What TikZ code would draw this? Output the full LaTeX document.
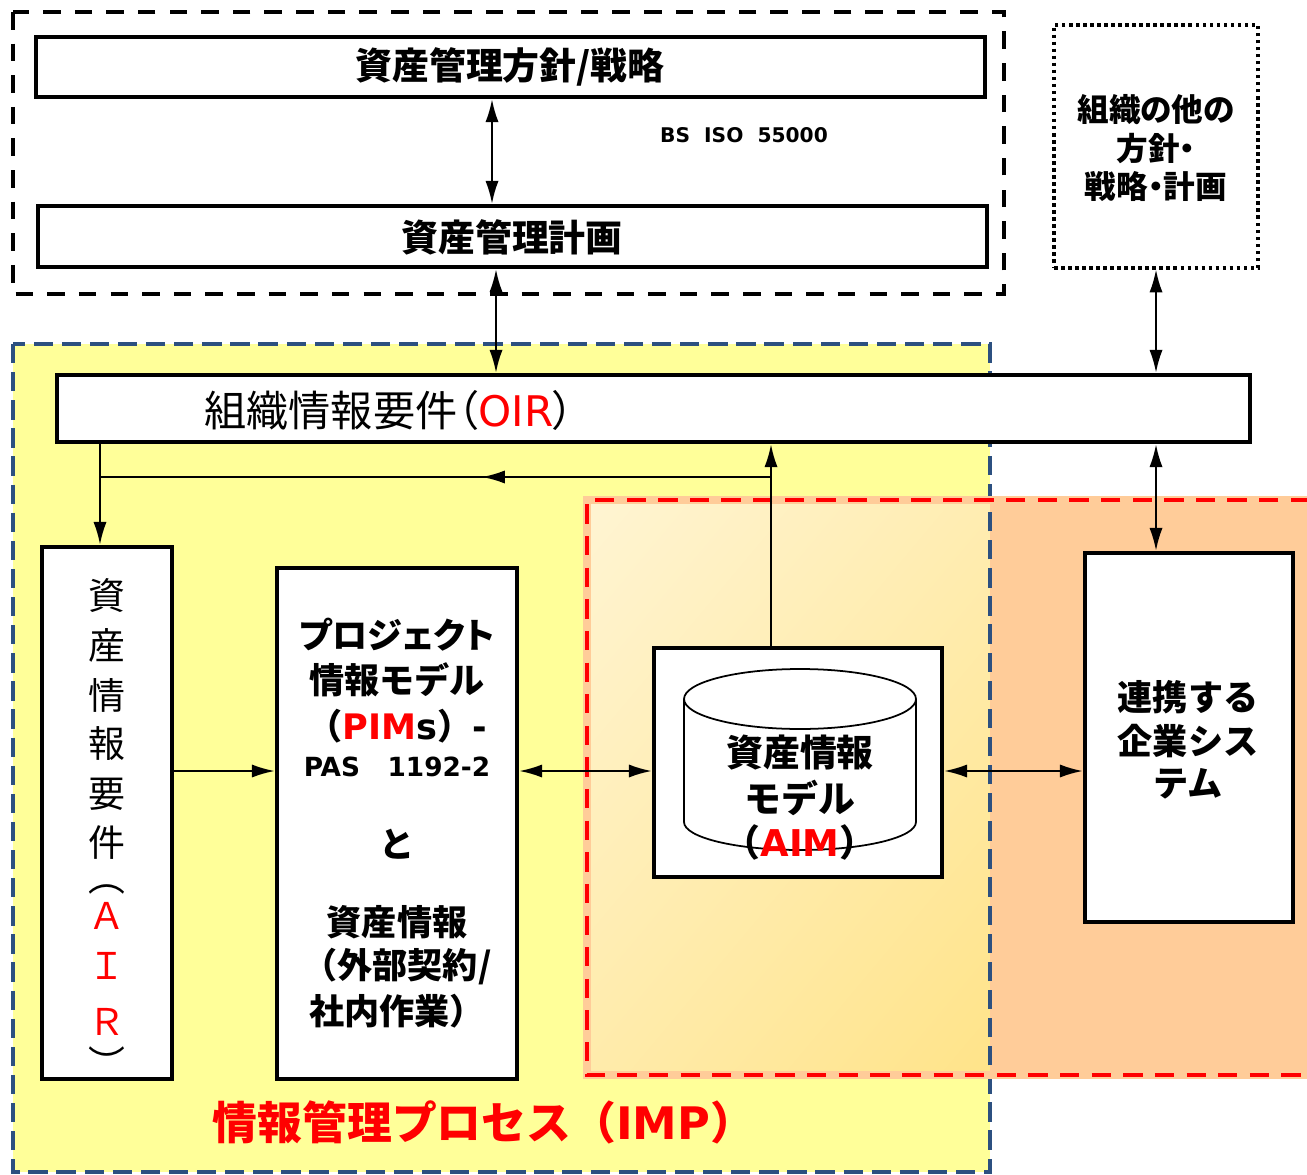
\documentclass[tikz,border=0pt]{standalone}
\usepackage{fontspec}
\setmainfont{Noto Sans CJK JP}
\newfontfamily\jpp[RawFeature=+palt]{Noto Sans CJK JP}
\newfontfamily\lat{DejaVu Sans}
\usetikzlibrary{arrows.meta,shapes.geometric,fit}
\definecolor{ylw}{RGB}{255,255,153}
\definecolor{org}{RGB}{255,204,153}
\definecolor{crm}{RGB}{255,248,226}
\definecolor{gld}{RGB}{255,224,122}
\definecolor{bluedash}{RGB}{44,80,128}
\definecolor{rd}{RGB}{255,0,0}
\pgfdeclarehorizontalshading{diagsh}{100bp}{color(0bp)=(crm); color(100bp)=(gld)}
\tikzset{
  box/.style={draw, line width=2.6pt, fill=white, inner sep=0pt},
  conn/.style={line width=1.1pt},
  dbl/.style={conn, {Latex[length=13pt,width=7.5pt]}-{Latex[length=13pt,width=7.5pt]}},
  sgl/.style={conn, -{Latex[length=13pt,width=7.5pt]}},
  bt/.style={inner sep=0pt, font=\fontsize{21}{25}\selectfont\bfseries},
  pt/.style={inner sep=0pt, font=\fontsize{20}{24}\selectfont\bfseries},
  ot/.style={inner sep=0pt, font=\jpp\fontsize{18}{22}\selectfont\bfseries},
  vt/.style={inner sep=0pt, font=\fontsize{21}{25}\selectfont},
}
\begin{document}
\begin{tikzpicture}[x=0.02cm, y=-0.02cm]
\useasboundingbox (0,0) rectangle (1307,1175);
\fill[white] (0,0) rectangle (1307,1175);
% regions
\fill[ylw] (13,344) rectangle (990,1172);
\shade[shading=diagsh, shading angle=-40] (587,500) rectangle (990,1075);
\fill[org] (990,500) rectangle (1310,1075);
\draw[bluedash, line width=2.3pt, dash pattern=on 11pt off 5pt] (13,344) rectangle (990,1172);
\draw[org, line width=4pt] (1310,500) -- (587,500) -- (587,1075) -- (1310,1075);
\draw[rd, line width=2.3pt, dash pattern=on 11pt off 7pt] (1310,500) -- (587,500) -- (587,1075) -- (1310,1075);
\draw[line width=2.8pt, dash pattern=on 10pt off 8pt] (13,12) rectangle (1004,294);
% top boxes
\node[box, fit={(36,37) (985,97)}] (pol) {};
\node[bt] (polt) at (510,67) {資産管理方針/戦略};
\node[box, fit={(38,206) (987,267)}] (plan) {};
\node[bt] (plant) at (512,237) {資産管理計画};
\node[inner sep=0pt, font=\lat\fontsize{11.5}{13}\selectfont\bfseries] (bsiso) at (744,135) {BS\ \ ISO\ \ 55000};
\node[draw, line width=1.8pt, dash pattern=on 2pt off 2pt, fit={(1054,25) (1258,268)}, inner sep=0pt] (other) {};
\node[ot] (o1) at (1156,110) {組織の他の};
\node[ot] (o2) at (1156,149) {方針・};
\node[ot] (o3) at (1156,187) {戦略・計画};
% OIR
\node[box, fit={(57,375) (1250,442)}] (oir) {};
\node[anchor=west, inner sep=0pt, font=\jpp\fontsize{24}{28}\selectfont] (oirt) at (204,410) {組織情報要件（\textcolor{rd}{\lat OIR}）};
% AIR
\node[box, fit={(42,547) (172,1079)}] (air) {};
\foreach \c/\yy/\nm in {資/596/a1,産/645/a2,情/695/a3,報/744/a4,要/794/a5,件/843/a6}
  \node[vt] (\nm) at (107,\yy) {\c};
\node[vt] (a7) at (107,889) {︵};
\node[vt, text=rd] (a8) at (107,916) {Ａ};
\node[vt, text=rd] (a9) at (107,966) {Ｉ};
\node[vt, text=rd] (a10) at (107,1022) {Ｒ};
\node[vt] (a11) at (107,1062) {︶};
% PIM
\node[box, fit={(277,568) (517,1079)}] (pim) {};
\node[pt] (p1) at (397,635) {\jpp プロジェクト};
\node[pt] (p2) at (397,680) {情報モデル};
\node[pt] (p3) at (397,726) {（\textcolor{rd}{\lat PIM}{\lat s}）{\lat -}};
\node[pt, font=\lat\fontsize{15}{18}\selectfont\bfseries] (p4) at (397,767) {PAS\ \ \ 1192-2};
\node[pt] (p5) at (397,844) {と};
\node[pt] (p6) at (397,922) {資産情報};
\node[pt] (p7) at (397,967) {（外部契約/};
\node[pt] (p8) at (397,1011) {社内作業）};
% AIM
\node[box, fit={(654,648) (942,877)}] (aim) {};
\draw[line width=1pt] (684,699) -- (684,822) arc[start angle=180, end angle=360, x radius=2.32cm, y radius=0.56cm] -- (916,699);
\node[draw, ellipse, line width=1pt, fill=white, minimum width=4.64cm, minimum height=1.2cm, inner sep=0pt] (cyltop) at (800,699) {};
\node[bt] (m1) at (800,753) {資産情報};
\node[bt] (m2) at (800,798) {モデル};
\node[bt] (m3) at (800,842) {（\textcolor{rd}{\lat AIM}）};
% System
\node[box, fit={(1085,553) (1293,922)}] (sys) {};
\node[pt] (s1) at (1188,697) {連携する};
\node[pt] (s2) at (1188,741) {企業シス};
\node[pt] (s3) at (1188,784) {テム};
% title
\node[inner sep=0pt, text=rd, font=\fontsize{25.5}{30}\selectfont\bfseries] (title) at (484,1122) {情報管理プロセス（{\lat IMP}）};
% helper coordinates
\coordinate (xa) at (492,0);
\coordinate (xb) at (496,0);
\coordinate (xc) at (1156,0);
\coordinate (xd) at (100,0);
\coordinate (xe) at (771,0);
\coordinate (ya) at (0,771);
\coordinate (fb1) at (771,477);
\coordinate (fb2) at (100,477);
\coordinate (fbm) at (482,477);
% connectors
\draw[dbl] (pol.south -| xa) -- (plan.north -| xa);
\draw[dbl] (plan.south -| xb) -- (oir.north -| xb);
\draw[dbl] (other.south -| xc) -- (oir.north -| xc);
\draw[dbl] (oir.south -| xc) -- (sys.north -| xc);
\draw[sgl] (oir.south -| xd) -- (air.north -| xd);
\draw[sgl] (aim.north -| xe) -- (oir.south -| xe);
\draw[conn] (fb1) -- (fb2);
\draw[sgl] (fb1) -- (fbm);
\draw[sgl] (air.east |- ya) -- (pim.west |- ya);
\draw[dbl] (pim.east |- ya) -- (aim.west |- ya);
\draw[dbl] (aim.east |- ya) -- (sys.west |- ya);
\end{tikzpicture}
\end{document}
